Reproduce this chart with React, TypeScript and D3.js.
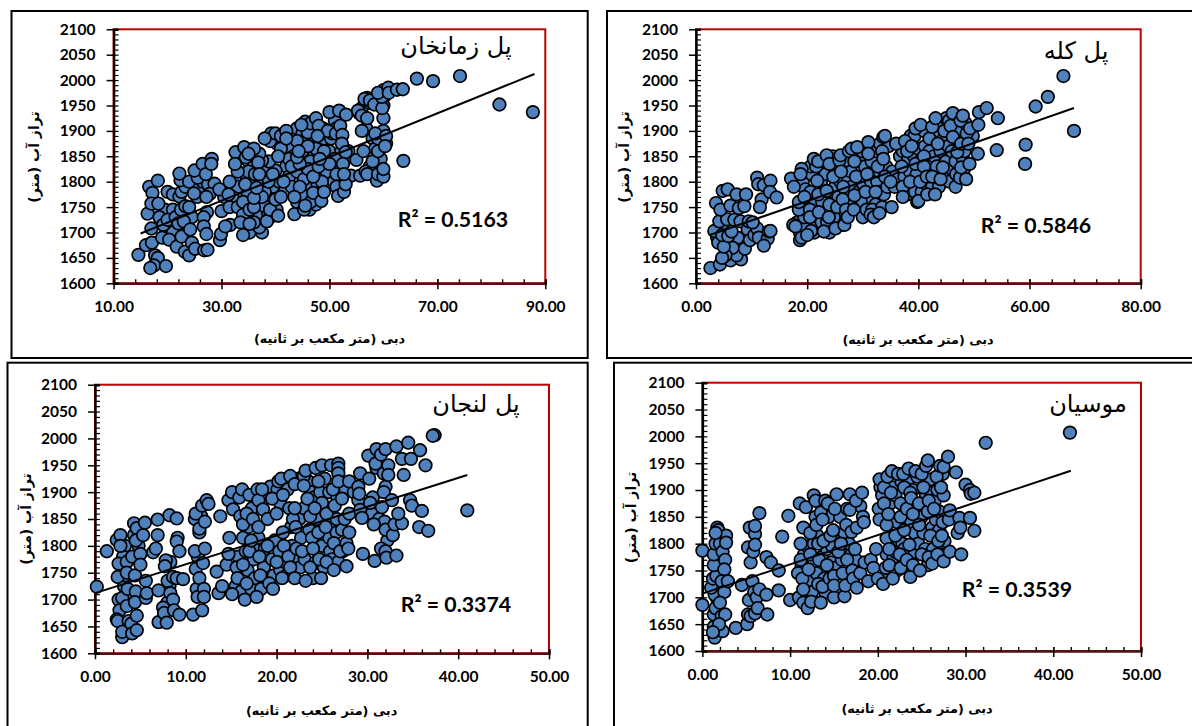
import * as d3 from 'd3';
import React, { useEffect, useRef } from 'react';

type Pt = [number, number];

const yTicks = [1600, 1650, 1700, 1750, 1800, 1850, 1900, 1950, 2000, 2050, 2100];
const xLabel = 'دبی (متر مکعب بر ثانیه)';
const yLabel = 'تراز آب (متر)';

// values: [discharge, water level]
// the *Dense lists are the points half hidden inside the clouds, drawn first
const zamankhanDense: Pt[] = [
  [18,1740],[19.5,1745],[21,1745],[20.5,1705],[21,1700],[23,1695],[23.7,1735],[24.5,1730],[25.5,1770],[25.8,1790],[26.5,1800],[27.5,1795],[27,1825],[30.5,1770],[32.3,1800],[33,1775],[33.5,1805],[33.2,1845],[34.7,1810],[35,1840],[36,1830],[35.6,1790],[37.3,1800],[37.7,1825],[38.5,1770],[39.5,1790],[40.7,1800],[40.2,1745],[38.6,1760],[37.2,1730],[36.4,1735],[35.2,1700],[37.5,1700],[39,1730],
  [39.2,1895],[40.3,1875],[41.3,1880],[43,1895],[43.5,1885],[43,1865],[43.3,1850],[42,1830],[44,1905],[45,1895],[45,1880],[45.8,1845],[46,1905],[47,1905],[47,1890],[47.5,1920],[47,1850],[46.3,1800],[46.7,1790],[45,1820],[44.2,1800],[44,1760],[46.3,1745],[47.5,1755],[48.2,1770],[47.8,1795],[47.3,1830],[48.6,1815],[49.5,1820],[49,1845],[48.8,1905],[49,1885],[50,1860],[50.3,1885],[50.5,1895],[51,1920],[51.3,1905],[52.2,1860],[50.8,1800],[52,1800],[53,1845],[53.5,1860],[51.5,1835],[55.5,1935],[56,1945],[57,1965],[56.8,1905],[57.5,1955],[58,1885],[58.5,1865],[59.5,1845],[59.7,1880],[60,1900],[60.5,1875],[58.2,1815],[57.5,1830],[59,1955],[60,1950],[60.3,1970],[60,1980],
];

const zamankhanPoints: Pt[] = [
  [37,1710],[36,1720],[38.4,1722],[38,1752],[39,1745],[40.5,1733],[38,1780],[38.7,1800],[40,1822],[38.8,1840],[37.5,1842],[39,1880],[40,1895],[41,1890],[42,1900],[41,1865],[42.5,1845],[41.8,1782],[40,1765],[41,1770],[42.5,1810],[43,1790],[43.5,1736],[44,1820],[45.5,1918],[46,1897],[46.5,1915],[47.5,1925],[48,1910],[47.5,1865],[46.5,1840],[45.3,1805],[45,1773],[45.3,1745],[46.5,1760],[47,1778],[48.6,1800],[48.5,1762],[49,1780],[49.7,1900],[51.2,1895],[52,1910],[52.4,1892],[52.3,1875],[53,1858],[51,1845],[52.5,1835],[51.3,1815],[54,1812],[51.3,1790],[51.6,1772],[52.7,1780],[53,1795],
  [40.5,1850],[43,1830],[44,1880],[45,1860],[46,1825],[47,1810],[44.5,1790],[43.5,1770],[48,1830],[49,1860],[50,1835],[46,1870],[44.5,1835],[47.8,1890],[41.5,1800],[39.5,1815],[37.5,1770],[36.5,1800],[34.8,1780],[33,1790],[32,1770],[35,1820],[37,1855],
  [14.6,1656],[16,1675],[17.1,1680],[17.7,1655],[18.2,1650],[17.5,1635],[16.8,1630],[19.7,1634],[16.3,1737],[16.6,1790],[17.2,1778],[18.2,1802],[17,1757],[18.3,1757],[20,1780],[21,1775],[22.2,1771],[17,1708],[18.5,1730],[19.2,1715],[20,1725],[19,1690],[20.3,1686],[21.5,1730],[22,1718],[22.5,1745],[23,1722],[23.3,1752],[24,1750],[21.7,1672],[23.2,1662],[22.6,1692],[24,1655],[24.5,1680],[25.1,1668],[24.2,1706],[22.6,1780],[23.3,1790],[22.4,1803],[22.2,1816],[24,1800],[25.6,1808],[25,1822],[24.9,1777],[26.5,1835],[27.1,1815],[28.2,1845],[28.1,1835],[28.7,1796],[27.8,1776],[27.2,1770],[27.3,1740],[26.7,1730],[26.7,1712],[27.2,1697],[26.8,1665],[27.4,1666],[29.7,1685],[29.9,1697],[30,1742],[29.6,1785],[31.5,1800],[31.3,1775],[31.5,1750],[33,1750],[31.6,1715],[30.7,1712],[32.6,1858],[33,1820],[32.5,1835],[34.4,1795],[34,1760],[34,1735],[33.5,1720],[34,1695],[35.2,1717],[35.2,1745],[36,1750],[36,1768],[36.5,1788],[36.2,1815],[34.5,1848],[34.2,1868],[36,1865],[35,1855],[36.8,1838],[37,1815],[38,1885],[42,1885],[44,1848],[44.3,1860],[44.8,1912],[48.2,1845],[45.5,1753],[50,1937],[51.8,1940],[53.1,1932],[52.7,1815],[55,1843],[55.3,1940],[56,1930],[56.5,1963],[57.5,1960],[57,1925],[58.3,1952],[56,1900],[56.3,1860],[55.7,1812],[56.7,1820],[57,1815],[58,1840],[59,1860],[58.8,1802],[59,1815],[60,1810],[60,1825],[59,1885],[58.5,1895],[60.5,1890],[60.3,1870],[60,1925],[59.8,1945],[59.7,1967],[59,1975],[60.9,1985],[61,1975],[62.5,1981],[63.6,1982],[63.7,1841],[66.2,2003],[69.2,1998],[74.2,2008],[81.5,1952],[87.7,1937],
];

const kolehDense: Pt[] = [
  [18.2,1720],[18.7,1700],[19.3,1710],[19.5,1730],[19.2,1800],[19.7,1785],[20.3,1760],[20.6,1780],[20.8,1815],[20.6,1830],[21.3,1700],[21.6,1715],[21.5,1760],[22.6,1720],[22.7,1760],[22.5,1800],[22.8,1825],[23.3,1815],[23.6,1720],[24.5,1780],[24.6,1850],[25,1825],[25,1790],[25.6,1770],[25.7,1730],[26.1,1715],[26,1800],[27,1780],[27,1830],[27.3,1800],[27.8,1755],[27.6,1840],[27.9,1820],[28,1790],[29.3,1780],[29.5,1810],[29.7,1840],[29.2,1750],[29.9,1860],[30.1,1795],[30,1760],[30.4,1830],[31.5,1800],[31.6,1840],[31.8,1765],[32.3,1755],[32.5,1860],[32.6,1800],[33,1820],[33,1780],[33.1,1875],[33.8,1775],[34.2,1830],[34.6,1870],[34.4,1790],[35.3,1820],[35.7,1790],[36.3,1805],[36.7,1850],[37.5,1810],[37.2,1860],[37.8,1830],[38,1775],[38.2,1845],[38.5,1820],[38.6,1890],[39,1800],[39.2,1850],[39.3,1890],[39.4,1780],[39.7,1815],[40,1865],[40.3,1840],[40.6,1780],[41,1900],[41.2,1870],[41.5,1795],[42,1860],[42.2,1835],[42.5,1790],[42.8,1850],[43,1890],[43.3,1830],[43.5,1915],[43.7,1790],[44,1860],[44.2,1880],[44.6,1810],[45,1840],[45,1925],[45.4,1870],[45.6,1800],[46,1860],[46,1825],[46.5,1910],[46.7,1840],[47,1900],[47.3,1880],[48,1845],[48.3,1860],[48.5,1915],[48.2,1825],[49.8,1890],[5.2,1715],[7.5,1690],[3.8,1690],
];

const kolehPoints: Pt[] = [
  [2.6,1630],[4.3,1637],[6.2,1645],[8.1,1647],[7.3,1655],[6.6,1670],[5.3,1655],[4.7,1650],[4,1680],[5,1672],[8.8,1668],[3.3,1703],[4.7,1695],[5.8,1693],[6.4,1702],[4.2,1722],[5.6,1726],[6.9,1725],[3.6,1758],[4.4,1745],[6.2,1753],[7.7,1748],[8.7,1752],[4.8,1782],[5.7,1785],[7.3,1775],[9,1775],[8,1722],[9.3,1706],[9.5,1722],[9.7,1685],[10.5,1695],[11,1708],[11.3,1690],[12.9,1688],[12.2,1674],[13.1,1702],[13.4,1703],[10.2,1720],[11,1808],[11.2,1795],[11.8,1765],[11.5,1750],[12.2,1793],[13.4,1802],[13.3,1780],[14.5,1769],
  [17.1,1806],[17.6,1790],[17.5,1715],[17.9,1712],[18.7,1685],[19,1690],[18.5,1745],[18.5,1760],[19,1825],[18.8,1815],[19.5,1770],[20.5,1745],[20.5,1730],[20.7,1703],[20,1695],[21.6,1830],[21.2,1845],[22,1840],[21.8,1802],[22,1775],[22.1,1740],[23.5,1782],[24,1755],[24,1700],[23,1702],[24.8,1730],[23.9,1730],[25.1,1708],[23.5,1852],[24,1835],[24.7,1810],[25.4,1750],[25.8,1842],[26,1852],[26.1,1820],[26.5,1790],[26.4,1765],[27,1745],[26.7,1715],[27.3,1730],[27.5,1860],[28,1865],[28.5,1840],[28.8,1810],[29,1868],[28.5,1773],[28.4,1745],[30,1730],[30.7,1745],[30.5,1780],[31,1878],[31,1855],[30.8,1815],[31.7,1745],[31.4,1735],[32,1730],[32.3,1780],[32.7,1830],[33.7,1888],[34,1890],[33.5,1860],[33.5,1750],[33,1738],[33.7,1845],[34,1810],[35,1800],[35.2,1750],[36,1875],[37.2,1790],[37.2,1770],[37,1830],[37.6,1880],[38,1860],[38.5,1800],[38.8,1870],[39.5,1905],[39.5,1835],[39.8,1760],[40.4,1912],[40,1762],[40.3,1800],[41,1850],[41,1830],[41.5,1810],[41.6,1775],[42,1885],[42.5,1908],[42.5,1810],[43,1775],[43.1,1925],[43.5,1875],[44,1805],[44.4,1828],[44.7,1900],[45.5,1920],[45.8,1910],[46.2,1888],[46.2,1935],[46.8,1815],[46.7,1790],[47,1858],[47.5,1808],[47.6,1920],[47.7,1875],[47.7,1828],[48,1930],[48.7,1895],[49,1875],[48.6,1805],[49.3,1905],[49.2,1835],[50.7,1855],[50.8,1912],[50.9,1937],[52.3,1945],[54.3,1925],[54.1,1862],[59.2,1835],[59.3,1873],[61.1,1948],[63.3,1967],[66.1,2008],[68,1900],
];

const lenjanDense: Pt[] = [
  [15.4,1895],[15.5,1725],[15.8,1780],[16.1,1715],[16.6,1790],[16.8,1755],[16.9,1835],[17.2,1720],[17.3,1870],[17.5,1775],[17.6,1740],[17.8,1800],[18,1815],[18.3,1720],[18.6,1760],[18.7,1795],[18.8,1890],[18.9,1740],[19.3,1910],[19.5,1775],[19.7,1745],[19.8,1810],[20.1,1905],[20.3,1790],[20.4,1755],[20.4,1880],[20.9,1770],[21.1,1745],[21.2,1905],[21.4,1870],[21.6,1835],[21.7,1800],[21.9,1755],[22.3,1780],[22.4,1925],[22.5,1850],[22.6,1760],[22.7,1815],[23,1870],[23.1,1775],[23.5,1920],[23.6,1830],[23.8,1900],[23.9,1815],[24,1740],[24.1,1890],[24.3,1770],[24.4,1850],[24.8,1900],[25,1800],[25,1880],[25.2,1760],[25.3,1925],[25.8,1900],[25.8,1815],[25.9,1790],[26,1840],[26.1,1775],[26.6,1850],[26.7,1890],[26.6,1825],[26.8,1770],[27.2,1830],[27.3,1790],[27.6,1905],[28.5,1900],[29,1885],[30.5,1860],[30.6,1890],[31.3,1850],[31.9,1845],[32.2,1810],[31.5,1795],[31,1945],[31.8,1935],[3.3,1800],[3.1,1780],[3.2,1725],[3.3,1745],[4,1710],[4.8,1800],[8.3,1770],[8.2,1725],[8,1695],[11.7,1855],[11.3,1780],
];

const lenjanPoints: Pt[] = [
  [0.2,1724],[1.3,1790],[2.4,1811],[2.8,1820],[2.8,1800],[2.6,1767],[2.5,1742],[2.6,1700],[3,1703],[2.7,1680],[2.4,1663],[2.5,1660],[3,1630],[3,1640],[3.5,1770],[3.5,1750],[3.6,1720],[3.5,1688],[3.7,1660],[4,1655],[4.1,1637],[4.6,1643],[4.3,1820],[4.3,1842],[4.6,1833],[4.5,1810],[4.1,1780],[4.4,1745],[4.5,1715],[4.4,1695],[4.6,1670],[5,1785],[5,1765],[5.3,1820],[5.5,1843],[5.6,1735],[5.6,1703],[5.7,1712],[6.4,1788],[6.7,1795],[6.9,1820],[6.9,1849],[7,1717],[7,1658],[7.5,1685],[7.6,1675],[7.8,1773],[7.7,1762],[8,1735],[8.2,1857],[7.9,1657],[8.3,1712],[8.6,1742],[8.6,1700],[8.7,1680],[9,1851],[9.1,1815],[9,1808],[9.3,1790],[9,1740],[9.3,1672],[9.7,1738],[10.8,1672],[11,1850],[11.1,1860],[11,1790],[11.1,1757],[11.2,1720],[11.3,1705],[11.5,1740],[11.5,1825],[11.5,1832],[11.8,1875],[12.1,1845],[12.1,1795],[11.9,1768],[11.8,1680],[12,1720],[12,1705],[12.3,1885],[12.5,1878],[13.4,1752],[13.6,1712],[13.8,1855],[14,1725],[14.5,1765],[14.7,1785],[14.7,1885],[14.8,1815],[15.1,1900],[15.1,1710],[15.2,1868],[15.6,1760],[15.7,1740],[15.9,1890],[16,1855],[16.2,1905],[16.3,1840],[16.3,1815],[16.3,1765],[16.5,1700],[16.7,1860],[16.7,1730],[17,1895],[17,1790],[17.2,1810],[17.4,1850],[17.8,1705],[17.9,1905],[18,1885],[18,1835],[18.1,1780],[18.2,1745],[18.5,1868],[18.4,1905],[19,1850],[19.2,1730],[19,1800],[19.5,1888],[19.6,1720],[20,1860],[20.2,1920],[20,1770],[20.5,1925],[20.6,1740],[20.7,1825],[20.8,1800],[20.7,1895],[21.5,1930],[21.3,1780],[21.5,1760],[21.8,1850],[22,1915],[22,1870],[22.1,1835],[22.2,1795],[22,1740],[23,1930],[23,1912],[22.8,1790],[23.2,1735],[23.2,1940],[23.4,1888],[23.7,1855],[23.7,1760],[24.3,1945],[24.2,1870],[24,1795],[24.6,1920],[24.6,1825],[24.7,1775],[24.9,1740],[25,1950],[25.4,1835],[25.5,1860],[25.5,1770],[26,1950],[26.2,1905],[26.4,1875],[26.3,1805],[26.3,1755],[26.8,1953],[26.8,1945],[26.8,1935],[26.8,1920],[27,1790],[27.2,1888],[27.5,1850],[27.7,1805],[27.7,1762],[27.9,1795],[28,1825],[28,1920],[28,1860],[29,1910],[29.1,1897],[29.2,1867],[29.4,1852],[29.2,1935],[29.5,1785],[30.1,1968],[30.2,1925],[30.3,1880],[30.7,1840],[30.8,1772],[30.9,1953],[31,1980],[31.5,1970],[31.6,1872],[32,1790],[32.1,1778],[32,1830],[32,1910],[32.3,1950],[32.3,1932],[31.8,1900],[32,1980],[32.7,1885],[32.8,1820],[33,1840],[33.2,1985],[33.2,1782],[33.8,1842],[33.4,1860],[33.8,1962],[34,1932],[34.5,1992],[34.7,1885],[34.8,1962],[34.9,1875],[35.7,1835],[36,1865],[35.8,1978],[36.4,1950],[36.7,1828],[37.4,2006],[37.2,2005],[41,1866],
];

const musianDense: Pt[] = [
  [11.3,1760],[11.6,1780],[11.8,1700],[12,1795],[12.2,1730],[12.5,1710],[12.6,1760],[12.7,1800],[12.9,1850],[13,1745],[13.1,1815],[13.6,1775],[13.9,1735],[14,1710],[14.2,1790],[14.4,1850],[14.7,1765],[14.8,1795],[15.1,1755],[15.4,1815],[15.5,1710],[15.7,1850],[15.9,1770],[16,1790],[16.2,1820],[16.4,1740],[16.7,1800],[17,1780],[17.5,1770],[17.8,1745],[18,1870],[20.3,1905],[20.5,1890],[20.7,1850],[21,1810],[21,1780],[21.1,1740],[21.4,1875],[21.7,1905],[21.8,1775],[22,1785],[22,1890],[22.2,1840],[22.2,1750],[22.4,1805],[22.6,1875],[22.7,1915],[22.8,1800],[23,1790],[23.2,1755],[23.4,1830],[23.5,1920],[23.8,1840],[24,1900],[24.2,1820],[24.2,1785],[24.4,1870],[24.5,1925],[24.6,1800],[25,1850],[25.2,1820],[25.4,1790],[25.5,1890],[25.7,1760],[26,1920],[26.1,1895],[26.2,1830],[26.3,1790],[26.5,1880],[26.6,1845],[26.8,1900],[27,1860],[27,1825],[27.1,1780],[27.4,1930],[27.5,1890],[27.6,1805],[27.4,1840],[1.7,1760],[1.9,1720],[1.6,1700],[2,1775],[2.4,1750],[1.7,1660],[1.6,1680],
];

const musianPoints: Pt[] = [
  [0,1787],[0,1686],[1.4,1625],[1.3,1645],[1.3,1668],[1.5,1680],[1.4,1705],[1,1718],[1.2,1735],[1.6,1740],[1.3,1760],[1.3,1780],[1.5,1800],[1.7,1830],[1.8,1825],[2,1800],[2.3,1785],[2.6,1770],[2.5,1752],[2.2,1730],[2.5,1710],[2,1690],[2.2,1665],[2.6,1668],[2.3,1637],[1.9,1650],[2.7,1815],[2.7,1802],[2.9,1730],[1.2,1635],[1.5,1820],[3.8,1643],[4.5,1723],[5.1,1650],[5.2,1668],[5.5,1665],[5.3,1695],[5.2,1793],[5.4,1830],[5.5,1765],[5.8,1785],[5.7,1730],[5.9,1710],[6,1818],[6,1798],[6,1833],[6,1670],[6.2,1700],[6.3,1680],[6.5,1857],[6.5,1715],[7.3,1705],[7.4,1668],[7.3,1775],[7.8,1765],[8.7,1750],[8.7,1713],[9.1,1813],[9.8,1852],[10,1695],[10.9,1745],[11,1700],[11.1,1875],[11.2,1800],[11.2,1770],[11.4,1735],[11.5,1830],[11.5,1690],[11.5,1715],[11.8,1868],[12,1680],[12.1,1752],[12.3,1780],[12.3,1820],[12.4,1692],[12.7,1890],[12.9,1880],[13,1835],[13.2,1800],[13.3,1770],[13.2,1725],[13.5,1690],[13.5,1858],[13.7,1845],[13.7,1720],[14,1880],[13.8,1805],[14.2,1760],[14.3,1875],[14.5,1735],[14.6,1815],[14.9,1825],[15,1700],[15,1740],[15,1722],[15.1,1865],[15.3,1892],[15.5,1785],[15.8,1800],[16,1745],[16.2,1702],[16.3,1722],[16.4,1835],[16.5,1865],[16.5,1770],[16.8,1892],[16.8,1863],[17,1822],[17.1,1750],[17.2,1735],[17.4,1790],[17.5,1880],[17.6,1830],[17.6,1718],[18,1745],[18.2,1895],[18.3,1850],[18.4,1840],[18.5,1765],[18.9,1730],[19.2,1770],[19.5,1755],[19.8,1790],[20.1,1865],[20,1735],[20.2,1920],[20.2,1845],[20.6,1725],[20.7,1875],[20.7,1905],[20.9,1755],[21,1835],[21.1,1925],[21.2,1855],[21.3,1790],[21.3,1760],[21.5,1895],[21.6,1935],[21.7,1735],[22,1815],[22.3,1930],[22.6,1755],[22.6,1850],[22.5,1780],[22.9,1930],[23,1825],[23,1905],[23.3,1865],[23.3,1770],[23.5,1940],[23.6,1798],[23.7,1895],[23.7,1738],[23.8,1885],[24,1855],[24,1760],[24.3,1935],[24.7,1875],[24.7,1835],[24.8,1750],[25,1930],[25,1780],[25.2,1905],[25.5,1945],[25.7,1955],[25.7,1860],[25.8,1880],[25.8,1775],[26,1815],[26.2,1763],[26.4,1865],[26.7,1925],[26.8,1780],[26.9,1805],[27.1,1945],[27.2,1905],[27.3,1815],[27.5,1943],[27.5,1767],[28,1962],[28.1,1845],[28.2,1862],[28.2,1785],[28.9,1933],[29.1,1820],[29.3,1848],[29.4,1830],[29.5,1780],[30,1910],[30.5,1900],[30.6,1893],[30.5,1848],[31,1824],[31,1895],[32.3,1988],[41.9,2007],
];

const panels = [
  { title: 'پل زمانخان', r2: 'R² = 0.5163', points: [...zamankhanDense, ...zamankhanPoints], trend: [[15, 1698], [88, 2012]] as Pt[], xDomain: [10, 90], xStep: 20, minor: 4,
    plot: [113.6, 545.3, 29.3, 283.3], frame: [11.5, 11, 587.7, 358], titleAt: [456, 47], r2At: [453, 222], xLabelAt: [329.5, 339], yLabelAt: [35, 157] },
  { title: 'پل کله', r2: 'R² = 0.5846', points: [...kolehDense, ...kolehPoints], trend: [[2.5, 1695], [68, 1945]] as Pt[], xDomain: [0, 80], xStep: 20, minor: 4,
    plot: [696, 1140.7, 29.3, 283.3], frame: [607, 11, 1200, 358], titleAt: [1076, 52], r2At: [1036, 228], xLabelAt: [918, 340], yLabelAt: [625, 157] },
  { title: 'پل لنجان', r2: 'R² = 0.3374', points: [...lenjanDense, ...lenjanPoints], trend: [[0, 1712], [41, 1932]] as Pt[], xDomain: [0, 50], xStep: 10, minor: 2,
    plot: [95, 549, 384.7, 653.3], frame: [7.5, 362.7, 587.7, 740], titleAt: [476, 405], r2At: [456, 607], xLabelAt: [321.6, 711.7], yLabelAt: [26.6, 519] },
  { title: 'موسیان', r2: 'R² = 0.3539', points: [...musianDense, ...musianPoints], trend: [[0, 1707], [42, 1936]] as Pt[], xDomain: [0, 50], xStep: 10, minor: 2,
    plot: [702.4, 1141, 382.7, 651], frame: [614, 362.7, 1200, 740], titleAt: [1088, 405], r2At: [1017, 592], xLabelAt: [917, 709], yLabelAt: [632, 517.5] },
];

const App = () => {
  const svgRef = useRef<SVGSVGElement>(null);

  useEffect(() => {
    const svg = d3.select(svgRef.current);
    svg.selectAll('*').remove();

    panels.forEach(p => {
      const [left, right, top, bottom] = p.plot;
      const xScale = d3.scaleLinear().domain(p.xDomain).range([left, right]);
      const yScale = d3.scaleLinear().domain([1600, 2100]).range([bottom, top]);
      const g = svg.append('g');

      // outer box
      g.append('rect')
        .attr('x', p.frame[0]).attr('y', p.frame[1])
        .attr('width', p.frame[2] - p.frame[0]).attr('height', p.frame[3] - p.frame[1])
        .attr('fill', 'white').attr('stroke', 'black').attr('stroke-width', 2);

      // plot border
      g.append('rect')
        .attr('x', left).attr('y', top)
        .attr('width', right - left).attr('height', bottom - top)
        .attr('fill', 'none').attr('stroke', '#c00000').attr('stroke-width', 2);

      // minor ticks
      const xMinor = d3.range(p.xDomain[0], p.xDomain[1] + 0.01, p.minor);
      g.append('g')
        .attr('transform', `translate(0,${bottom})`)
        .call(d3.axisBottom(xScale).tickValues(xMinor).tickSize(-4).tickFormat(() => ''))
        .call(a => a.selectAll('path').attr('stroke', '#4a1414').attr('stroke-width', 2.4))
        .call(a => a.selectAll('line').attr('stroke', 'black').attr('stroke-width', 1.4));

      const yMinor = d3.range(1600, 2100.01, 10);
      g.append('g')
        .attr('transform', `translate(${left},0)`)
        .call(d3.axisLeft(yScale).tickValues(yMinor).tickSize(-5).tickFormat(() => ''))
        .call(a => a.selectAll('path').attr('stroke', 'black').attr('stroke-width', 2.4))
        .call(a => a.selectAll('line').attr('stroke', 'black').attr('stroke-width', 1.2));

      // major ticks and labels
      const xMajor = d3.range(p.xDomain[0], p.xDomain[1] + 0.01, p.xStep);
      const xAxis = g.append('g')
        .attr('transform', `translate(0,${bottom})`)
        .call(d3.axisBottom(xScale).tickValues(xMajor).tickSize(6).tickPadding(12).tickFormat(d3.format('.2f')));
      xAxis.select('path').remove();
      xAxis.selectAll('line').attr('y1', -4).attr('stroke', 'black').attr('stroke-width', 1.5);

      const yAxis = g.append('g')
        .attr('transform', `translate(${left},0)`)
        .call(d3.axisLeft(yScale).tickValues(yTicks).tickSize(7).tickPadding(11).tickFormat(d3.format('d')));
      yAxis.select('path').remove();
      yAxis.selectAll('line').attr('stroke', 'black').attr('stroke-width', 1.5);

      g.selectAll('.tick text')
        .attr('fill', 'black')
        .style('font-family', 'Lato, "Open Sans", sans-serif')
        .style('font-weight', 700)
        .style('font-size', '15.5px');

      // points
      g.append('g').selectAll('circle')
        .data(p.points)
        .enter()
        .append('circle')
        .attr('cx', d => xScale(d[0]))
        .attr('cy', d => yScale(d[1]))
        .attr('r', 6.3)
        .attr('fill', '#4f81bd')
        .attr('stroke', 'black')
        .attr('stroke-width', 1.7);

      // trend line
      g.append('path')
        .datum(p.trend)
        .attr('fill', 'none')
        .attr('stroke', 'black')
        .attr('stroke-width', 2)
        .attr('d', d3.line<Pt>().x(d => xScale(d[0])).y(d => yScale(d[1])));

      const arabic = 'DejaVu Sans, sans-serif';

      g.append('text')
        .attr('x', p.titleAt[0]).attr('y', p.titleAt[1])
        .attr('text-anchor', 'middle').attr('dominant-baseline', 'middle')
        .style('font-family', arabic).style('font-size', '24px')
        .text(p.title);

      g.append('text')
        .attr('x', p.r2At[0]).attr('y', p.r2At[1])
        .attr('text-anchor', 'middle').attr('dominant-baseline', 'middle')
        .style('font-family', 'Lato, sans-serif').style('font-weight', 700).style('font-size', '21.3px')
        .text(p.r2);

      g.append('text')
        .attr('x', p.xLabelAt[0]).attr('y', p.xLabelAt[1])
        .attr('text-anchor', 'middle').attr('dominant-baseline', 'middle')
        .style('font-family', arabic).style('font-weight', 700).style('font-size', '12.8px')
        .text(xLabel);

      g.append('text')
        .attr('transform', `translate(${p.yLabelAt[0]},${p.yLabelAt[1]}) rotate(-90)`)
        .attr('text-anchor', 'middle').attr('dominant-baseline', 'middle')
        .style('font-family', arabic).style('font-weight', 700).style('font-size', '14px')
        .text(yLabel);
    });
  }, []);

  return <svg ref={svgRef} width={1192} height={726} style={{ position: 'absolute', left: 0, top: 0, display: 'block' }}></svg>;
};

export default App;
